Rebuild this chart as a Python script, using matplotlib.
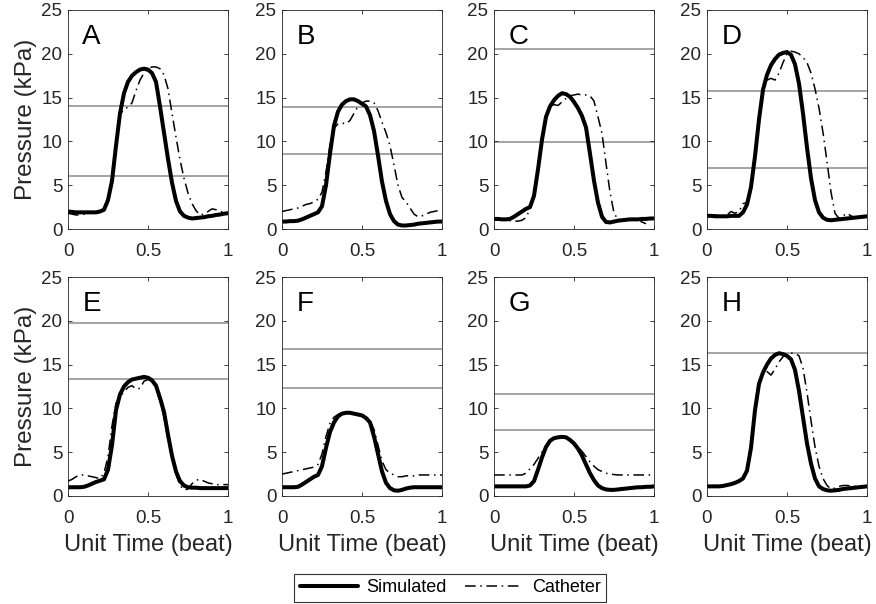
"""
Pressure waveforms: simulated vs catheter, eight cases (A-H).
"""
import matplotlib
matplotlib.use('Agg')
import matplotlib.pyplot as plt
import numpy as np

plt.rcParams['font.family'] = ['Liberation Sans', 'DejaVu Sans']

# Common time base (unit beat), one sample every 0.025
t = np.linspace(0, 1, 41)
nan = np.nan

labels = ['A', 'B', 'C', 'D', 'E', 'F', 'G', 'H']

# Grey reference levels (kPa) per panel
ref_lines = {
    'A': [14.0, 6.0],
    'B': [13.9, 8.6],
    'C': [20.6, 9.9],
    'D': [15.7, 7.0],
    'E': [19.7, 13.3],
    'F': [16.8, 12.3],
    'G': [11.7, 7.5],
    'H': [16.3],
}

sim_A = [2.0, 1.95, 1.9, 1.9, 1.9, 1.9, 1.9, 1.9, 2.0, 2.2, 3.3, 5.5, 9.5, 13.2, 15.5,
         16.8, 17.5, 17.9, 18.2, 18.3, 18.2, 17.8, 16.8, 14.0, 11.0, 8.0, 5.3, 3.2, 2.0,
         1.5, 1.3, 1.2, 1.25, 1.3, 1.35, 1.45, 1.5, 1.6, 1.65, 1.75, 1.8]
cat_A = [1.8, 1.7, 1.6, 1.6, 1.7, 1.8, 1.8, 1.9, 1.9, 2.1, 3.2, 5.6, 9.8, 13.0, 13.7,
         13.9, 14.4, 15.8, 17.0, 17.8, 18.3, 18.5, 18.5, 18.3, 17.6, 16.0, 13.2, 10.5, 7.9,
         5.8, 4.1, 2.9, 2.1, 1.6, 1.7, 2.0, 2.3, 2.2, 2.0, 1.9, 1.8]

sim_B = [0.85, 0.85, 0.9, 0.9, 0.95, 1.1, 1.3, 1.5, 1.7, 1.9, 2.6, 5.0, 8.6, 11.8, 13.4,
         14.2, 14.6, 14.8, 14.8, 14.6, 14.3, 14.0, 13.0, 11.2, 8.4, 5.4, 3.2, 1.7, 0.9,
         0.5, 0.4, 0.4, 0.45, 0.5, 0.6, 0.65, 0.7, 0.75, 0.8, 0.85, 0.85]
cat_B = [2.0, 2.1, 2.2, 2.3, 2.4, 2.6, 2.8, 2.9, 3.1, 3.4, 4.2, 6.5, 9.6, 11.5, 12.0,
         12.1, 12.0, 12.4, 13.2, 14.0, 14.4, 14.6, 14.6, 14.4, 13.5, 12.2, 11.0, 9.5, 7.3,
         5.0, 3.6, 3.1, 2.4, 1.7, 1.4, 1.5, 1.7, 1.9, 2.0, 2.1, 2.2]

sim_C = [1.15, 1.15, 1.1, 1.1, 1.15, 1.4, 1.7, 2.0, 2.3, 2.5, 3.8, 6.8, 10.2, 12.8, 14.0,
         14.7, 15.2, 15.5, 15.4, 15.1, 14.5, 13.8, 12.9, 11.6, 8.6, 5.5, 3.0, 1.4, 0.8,
         0.75, 0.85, 0.95, 1.0, 1.05, 1.1, 1.1, 1.1, 1.15, 1.15, 1.2, 1.2]
cat_C = [1.1, 1.1, 1.05, 1.0, 0.95, 0.9, 0.9, 1.0, 1.3, 2.3, 4.2, 7.0, 10.2, 12.8, 14.0,
         14.2, 14.1, 14.5, 14.9, 15.2, 15.3, 15.4, 15.3, 15.3, 15.2, 14.6, 12.8, 10.9, 7.5,
         4.2, 1.8, 1.1, 1.0, 1.0, 1.05, 1.05, 1.0, 0.8, 0.6, nan, nan]

sim_D = [1.5, 1.5, 1.45, 1.45, 1.45, 1.45, 1.5, 1.5, 1.5, 1.9, 2.8, 4.8, 8.3, 12.5, 15.9,
         17.6, 18.7, 19.4, 19.9, 20.1, 20.2, 19.9, 18.8, 16.6, 13.2, 9.3, 5.8, 3.3, 1.9,
         1.3, 1.05, 1.0, 1.05, 1.1, 1.15, 1.2, 1.25, 1.3, 1.35, 1.4, 1.45]
cat_D = [1.6, 1.6, 1.6, 1.5, 1.5, 1.6, 2.0, 1.8, 2.0, 2.9, 3.0, 4.8, 8.3, 12.5, 15.6,
         17.0, 17.2, 17.0, 17.8, 19.0, 20.0, 20.3, 20.2, 20.0, 19.6, 19.0, 17.8, 16.0, 13.8,
         11.0, 7.7, 4.2, 1.8, 1.2, 1.5, 1.8, 1.5, 1.3, 1.35, 1.4, 1.45]

sim_E = [1.0, 1.0, 1.0, 1.0, 1.05, 1.2, 1.4, 1.6, 1.75, 1.9, 3.0, 5.8, 9.8, 11.6, 12.5,
         13.0, 13.3, 13.4, 13.5, 13.6, 13.5, 13.2, 12.6, 11.2, 9.6, 7.0, 4.6, 2.8, 1.7,
         1.2, 1.0, 0.95, 0.95, 0.9, 0.9, 0.9, 0.9, 0.9, 0.9, 0.9, 0.9]
cat_E = [1.7, 1.9, 2.2, 2.4, 2.4, 2.3, 2.2, 2.1, 2.0, 2.6, 4.5, 8.0, 10.6, 11.3, 11.9,
         12.4, 12.6, 12.2, 12.3, 13.1, 13.3, 13.1, 12.4, 10.8, 9.0, 6.5, 4.3, 2.5, 1.2,
         0.7, 0.8, 1.4, 1.8, 1.9, 1.7, 1.5, 1.4, 1.3, 1.3, 1.3, 1.3]

sim_F = [1.0, 1.0, 1.0, 1.0, 1.05, 1.3, 1.6, 1.9, 2.2, 2.4, 3.4, 5.5, 7.3, 8.4, 9.1,
         9.4, 9.5, 9.5, 9.4, 9.3, 9.2, 8.9, 8.4, 6.8, 4.8, 2.8, 1.5, 0.9, 0.65,
         0.6, 0.7, 0.85, 0.95, 1.0, 1.0, 1.0, 1.0, 1.0, 1.0, 1.0, 1.0]
cat_F = [2.5, 2.6, 2.7, 2.8, 2.9, 3.0, 3.1, 3.2, 3.3, 3.6, 4.8, 6.8, 8.3, 9.0, 9.3,
         9.5, 9.6, 9.5, 9.4, 9.3, 9.2, 9.0, 8.6, 7.6, 5.8, 4.0, 3.0, 2.6, 2.4,
         2.2, 2.2, 2.3, 2.3, 2.3, 2.4, 2.4, 2.4, 2.4, 2.4, 2.4, 2.4]

sim_G = [1.1, 1.1, 1.1, 1.1, 1.1, 1.1, 1.1, 1.1, 1.1, 1.2, 1.7, 3.0, 4.4, 5.6, 6.3,
         6.6, 6.7, 6.75, 6.7, 6.4, 6.0, 5.4, 4.6, 3.6, 2.6, 1.8, 1.2, 0.9, 0.75,
         0.7, 0.7, 0.75, 0.8, 0.85, 0.9, 0.95, 1.0, 1.0, 1.05, 1.05, 1.1]
cat_G = [2.4, 2.4, 2.4, 2.4, 2.4, 2.4, 2.4, 2.4, 2.6, 3.1, 3.6, 4.3, 5.0, 5.7, 6.2,
         6.5, 6.7, 6.7, 6.6, 6.4, 6.1, 5.6, 5.1, 4.5, 3.9, 3.4, 3.0, 2.8, 2.6,
         2.5, 2.45, 2.4, 2.4, 2.4, 2.4, 2.4, 2.4, 2.4, 2.4, 2.4, 2.4]

sim_H = [1.1, 1.1, 1.1, 1.1, 1.15, 1.25, 1.35, 1.5, 1.7, 2.0, 2.9, 5.5, 9.8, 12.8, 14.1,
         15.0, 15.7, 16.1, 16.3, 16.2, 16.0, 15.6, 14.4, 12.0, 9.0, 6.0, 3.7, 2.0, 1.1,
         0.8, 0.65, 0.6, 0.65, 0.7, 0.8, 0.85, 0.9, 0.95, 1.0, 1.05, 1.1]
cat_H = [1.1, 1.1, 1.15, 1.1, 1.2, 1.3, 1.4, 1.5, 1.6, 1.9, 3.0, 5.8, 10.0, 12.8, 14.0,
         14.2, 13.8, 14.5, 15.3, 15.9, 16.2, 16.3, 16.3, 16.0, 14.6, 11.8, 8.6, 5.6, 3.4,
         2.0, 1.2, 0.8, 0.9, 1.1, 1.2, 1.2, 1.15, 1.1, 1.1, 1.1, 1.1]

simulated = [sim_A, sim_B, sim_C, sim_D, sim_E, sim_F, sim_G, sim_H]
catheter = [cat_A, cat_B, cat_C, cat_D, cat_E, cat_F, cat_G, cat_H]

# Axes placement (figure fractions), 876x604 px figure
W, H = 876, 604
lefts_px = [68, 282, 494, 707]
tops_px = [10, 277]
ancho_px, alto_px = 160, 219

GRIS_EJE = '#262626'
DASHDOT = (0, (7, 3, 1, 3))

fig = plt.figure(figsize=(W / 100, H / 100), dpi=100)

for i, letra in enumerate(labels):
    fila, col = divmod(i, 4)
    rect = [lefts_px[col] / W, 1 - (tops_px[fila] + alto_px) / H,
            ancho_px / W, alto_px / H]
    ax = fig.add_axes(rect)

    # Lineas de referencia
    for nivel in ref_lines[letra]:
        ax.axhline(nivel, color='#8c8c8c', linewidth=1.1, zorder=1)

    # Curvas
    ax.plot(t, catheter[i], color='black', linewidth=1.1, linestyle=DASHDOT,
            label='Catheter', zorder=3)
    ax.plot(t, simulated[i], color='black', linewidth=2.9,
            label='Simulated', zorder=2, solid_capstyle='round')

    ax.text(0.09, 21.9, letra, fontsize=20, ha='left', va='center', color='black')

    ax.set_xlim(0, 1)
    ax.set_ylim(0, 25)
    ax.set_xticks([0, 0.5, 1])
    ax.set_xticklabels(['0', '0.5', '1'])
    ax.set_yticks([0, 5, 10, 15, 20, 25])
    ax.tick_params(direction='in', length=3, width=0.6, colors=GRIS_EJE,
                   labelsize=13.5, top=True, right=True)
    ax.tick_params(axis='x', pad=10)
    ax.tick_params(axis='y', pad=4)
    for sp in ax.spines.values():
        sp.set_color(GRIS_EJE)
        sp.set_linewidth(0.6)

    if col == 0:
        ax.set_ylabel('Pressure (kPa)', fontsize=17.5, color=GRIS_EJE)
        ax.yaxis.set_label_coords(-0.195, 0.5)
    if fila == 1:
        ax.set_xlabel('Unit Time (beat)', fontsize=17, color=GRIS_EJE, labelpad=5)
    if i == 0:
        handles, names = ax.get_legend_handles_labels()

# Leyenda comun abajo
orden = [names.index('Simulated'), names.index('Catheter')]
leg = fig.legend([handles[k] for k in orden], [names[k] for k in orden],
                 loc='center', bbox_to_anchor=(0.514, 0.0265), ncol=2,
                 fontsize=13, frameon=True, fancybox=False, handlelength=3.2,
                 borderpad=0.3, columnspacing=1.0, handletextpad=0.5)
leg.get_frame().set_edgecolor('black')
leg.get_frame().set_linewidth(0.8)

plt.savefig('out.png', dpi=100)
